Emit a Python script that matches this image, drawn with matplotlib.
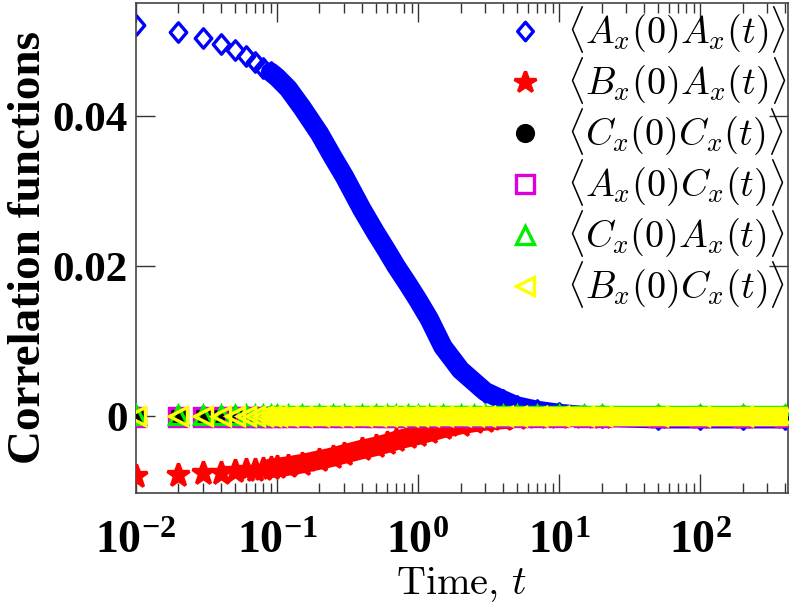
import numpy as np
import matplotlib
matplotlib.use("Agg")
import matplotlib.pyplot as plt
from matplotlib.ticker import LogLocator, FuncFormatter, NullFormatter
from matplotlib.path import Path

plt.rcParams['font.family'] = ['Liberation Serif', 'DejaVu Serif']
plt.rcParams['mathtext.fontset'] = 'custom'
plt.rcParams['mathtext.rm'] = 'Liberation Serif'
plt.rcParams['mathtext.bf'] = 'Liberation Serif:bold'
plt.rcParams['mathtext.it'] = 'Liberation Serif:italic'

# time samples
t = [0.01, 0.02, 0.03, 0.04, 0.05, 0.06, 0.07, 0.08, 0.09, 0.1,
     0.12, 0.15, 0.2, 0.25, 0.3, 0.4, 0.5, 0.6, 0.7, 0.85,
     1.0, 1.2, 1.5, 2.0, 2.5, 3.0, 4.0, 5.0, 7.0, 10.0,
     15.0, 20.0, 50.0, 100.0, 200.0, 400.0]

A_A = [0.0522, 0.0513, 0.0504, 0.0496, 0.0488, 0.0480, 0.0472, 0.0465, 0.0459, 0.0452,
       0.0437, 0.0412, 0.0377, 0.0345, 0.0320, 0.0276, 0.0245, 0.0221, 0.0200, 0.0176,
       0.0155, 0.0130, 0.0093, 0.0062, 0.0046, 0.0033, 0.0022, 0.0014, 0.0008, 0.0004,
       0.0001, -0.0001, -0.0003, -0.0003, -0.0003, -0.0003]
B_A = [-0.0079, -0.0078, -0.0076, -0.0075, -0.0073, -0.0072, -0.0071, -0.0070, -0.0069, -0.0068,
       -0.0066, -0.0063, -0.0058, -0.0054, -0.0050, -0.0044, -0.0040, -0.0036, -0.0032, -0.0028,
       -0.0025, -0.0021, -0.0016, -0.0011, -0.0008, -0.0006, -0.0004, -0.0002, -0.0001, -0.0001,
       -0.0001, -0.0001, -0.0001, -0.0001, -0.0001, -0.0001]
C_C = [0.0, 0.0, 0.0, 0.0, 0.0, 0.0, 0.0, 0.0, 0.0, 0.0,
       0.0, 0.0, 0.0, 0.0, 0.0, 0.0, 0.0, 0.0, 0.0, 0.0,
       0.0, 0.0, 0.0, 0.0, 0.0, 0.0, 0.0, 0.0, 0.0, 0.0,
       0.0, 0.0, 0.0, 0.0, 0.0, 0.0]
A_C = [-0.0001, -0.0001, -0.0001, -0.0001, -0.0001, -0.0001, -0.0001, -0.0001, -0.0001, -0.0001,
       -0.0001, -0.0001, -0.0001, -0.0001, -0.0001, -0.0001, -0.0001, -0.0001, -0.0001, -0.0001,
       -0.0001, -0.0001, -0.0001, -0.0001, -0.0001, -0.0001, -0.0001, -0.0001, -0.0001, -0.0001,
       -0.0001, -0.0001, -0.0001, -0.0001, -0.0001, -0.0001]
C_A = [0.0002, 0.0002, 0.0002, 0.0002, 0.0002, 0.0002, 0.0002, 0.0002, 0.0002, 0.0002,
       0.0002, 0.0002, 0.0002, 0.0002, 0.0002, 0.0002, 0.0002, 0.0002, 0.0002, 0.0002,
       0.0002, 0.0002, 0.0002, 0.0002, 0.0002, 0.0002, 0.0002, 0.0002, 0.0002, 0.0002,
       0.0002, 0.0002, 0.0002, 0.0002, 0.0002, 0.0002]
B_C = [0.0, 0.0, 0.0, 0.0, 0.0, 0.0, 0.0, 0.0, 0.0, 0.0,
       0.0, 0.0, 0.0, 0.0, 0.0, 0.0, 0.0, 0.0, 0.0, 0.0,
       0.0, 0.0, 0.0, 0.0, 0.0, 0.0, 0.0, 0.0, 0.0, 0.0,
       0.0, 0.0, 0.0, 0.0, 0.0, 0.0]

labels = [r'$\langle A_x(0)A_x(t)\rangle$',
          r'$\langle B_x(0)A_x(t)\rangle$',
          r'$\langle C_x(0)C_x(t)\rangle$',
          r'$\langle A_x(0)C_x(t)\rangle$',
          r'$\langle C_x(0)A_x(t)\rangle$',
          r'$\langle B_x(0)C_x(t)\rangle$']

# slightly narrow diamond like the original
diamond = Path([(0, 1), (0.85, 0), (0, -1), (-0.85, 0), (0, 1)],
               [Path.MOVETO, Path.LINETO, Path.LINETO, Path.LINETO, Path.CLOSEPOLY])

series = [
    (A_A, 'blue', diamond, 14, 'none'),
    (B_A, 'red', '*', 17, 'red'),
    (C_C, 'black', 'o', 12, 'black'),
    (A_C, '#dd00dd', 's', 13, 'none'),
    (C_A, '#00ee00', '^', 13, 'none'),
    (B_C, '#ffff00', '<', 13, 'none'),
]

fig = plt.figure(figsize=(7.92, 6.04), dpi=100)
ax = fig.add_axes([136 / 792, (604 - 493) / 604, (788 - 136) / 792, (493 - 3) / 604])

first_dense = 8  # markers merge into a band from about t = 0.09
for z, (y, c, m, ms, fc) in enumerate(series):
    ax.plot(t[first_dense:], y[first_dense:], '-', color=c, lw=14,
            solid_capstyle='round', solid_joinstyle='round', zorder=2 + z)
    ax.plot(t, y, ls='none', marker=m, ms=ms, mfc=fc, mec=c, mew=2.4,
            label=labels[z], zorder=2 + z)

ax.set_xscale('log')
ax.set_xlim(0.01, 420)
ax.set_ylim(-0.0102, 0.0551)

ax.xaxis.set_major_locator(LogLocator(base=10, numticks=10))
ax.xaxis.set_minor_locator(LogLocator(base=10, subs=np.arange(2, 10), numticks=20))
ax.xaxis.set_major_formatter(FuncFormatter(lambda v, p: r'$\mathbf{10^{%d}}$' % round(np.log10(v))))
ax.xaxis.set_minor_formatter(NullFormatter())
ax.set_yticks([0, 0.02, 0.04])
ax.set_yticklabels(['0', '0.02', '0.04'], fontweight='bold')

ax.tick_params(which='both', direction='in', top=True, right=True, width=1, color='#333333')
ax.tick_params(which='major', length=14)
ax.tick_params(which='minor', length=7)
ax.tick_params(axis='x', which='major', labelsize=33, pad=20)
ax.tick_params(axis='y', which='major', labelsize=31, pad=6)
for s in ax.spines.values():
    s.set_linewidth(1.2)
    s.set_color('#444444')

ax.set_ylabel('Correlation functions', fontsize=34, fontweight='bold', labelpad=2)
xl = ax.set_xlabel(r'$\mathrm{Time},\,t$', fontsize=29, labelpad=1)
xl.set_math_fontfamily('cm')

leg = ax.legend(loc='upper right', frameon=False, fontsize=27.5, markerscale=0.95,
                handlelength=1.0, handletextpad=0.6, labelspacing=0.0,
                borderaxespad=0.0, borderpad=0.05)
for tx in leg.get_texts():
    tx.set_math_fontfamily('cm')

fig.savefig('out.png', dpi=100)
